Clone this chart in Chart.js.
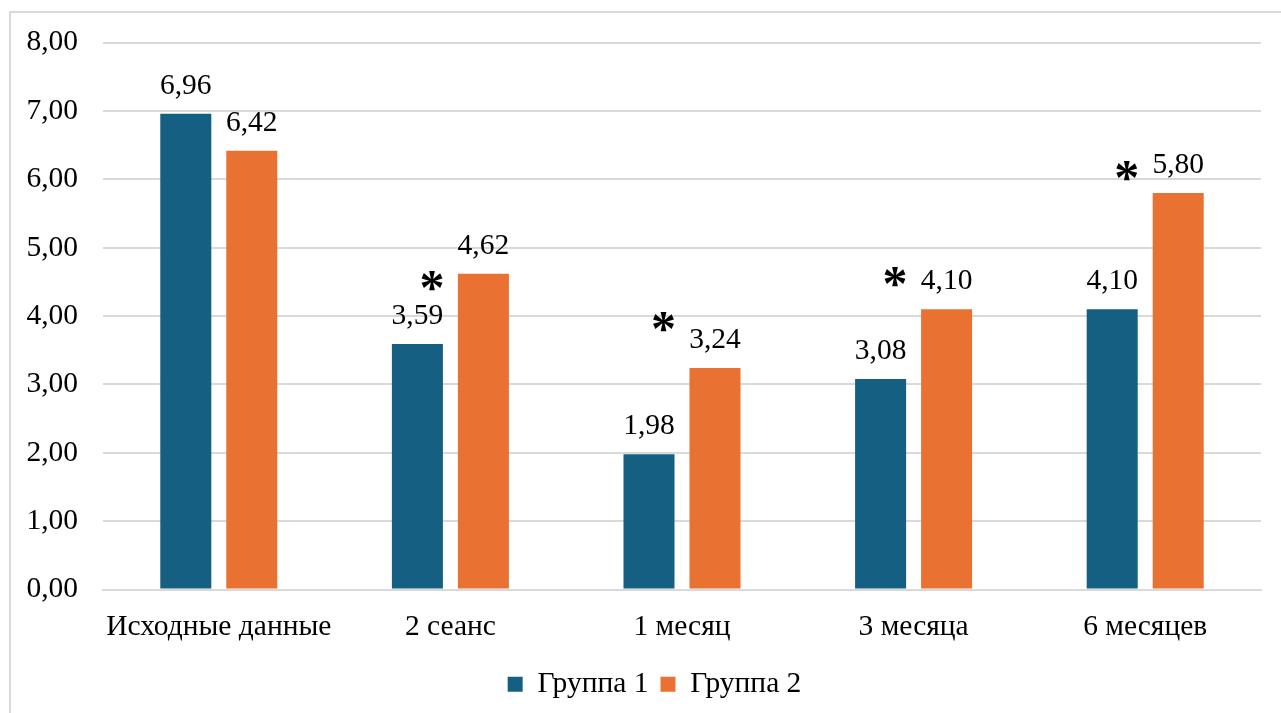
<!DOCTYPE html>
<html>
<head>
<meta charset="utf-8">
<script src="https://cdn.jsdelivr.net/npm/chart.js@4.4.1/dist/chart.umd.min.js"></script>
<style>
  html, body { margin: 0; padding: 0; background: #ffffff; overflow: hidden; }
  #wrap { position: relative; width: 1281px; height: 713px; }
  #frame { position: absolute; left: 9px; top: 11px; width: 1300px; height: 720px; border: 2px solid #d9d9d9; box-sizing: border-box; }
  canvas { position: absolute; left: 0; top: 0; }
</style>
</head>
<body>
<div id="wrap">
  <div id="frame"></div>
  <canvas id="c" width="1281" height="713"></canvas>
</div>
<script>
const categories = ['Исходные данные', '2 сеанс', '1 месяц', '3 месяца', '6 месяцев'];
const seriesNames = ['Группа 1', 'Группа 2'];
const group1 = [6.96, 3.59, 1.98, 3.08, 4.10];
const group2 = [6.42, 4.62, 3.24, 4.10, 5.80];
// asterisk markers (significance), height in axis units; null = no marker
const asteriskLevels = [null, 4.53, 3.93, 4.59, 6.13];
const yTicks = [0, 1, 2, 3, 4, 5, 6, 7, 8];

const BLUE = '#156082';
const ORANGE = '#E97132';
const FONT = "'Liberation Serif', 'Times New Roman', serif";
const FS = 29.5;

const fmt = v => v.toFixed(2).replace('.', ',');

const labelsPlugin = {
  id: 'valueLabels',
  afterLayout(chart) {
    // centre the legend under the framed area like the original
    if (chart.legend) { chart.legend.left += 24; chart.legend.right += 24; }
  },
  afterDatasetsDraw(chart) {
    const ctx = chart.ctx;
    ctx.save();
    ctx.fillStyle = '#000';
    ctx.font = FS + 'px ' + FONT;
    ctx.textAlign = 'center';
    ctx.textBaseline = 'alphabetic';
    chart.data.datasets.forEach((ds, di) => {
      const meta = chart.getDatasetMeta(di);
      meta.data.forEach((bar, i) => {
        ctx.fillText(fmt(ds.data[i]), bar.x, bar.y - 20);
      });
    });
    // asterisks
    const ys = chart.scales.y;
    const meta2 = chart.getDatasetMeta(1);
    ctx.font = 'bold 50px ' + FONT;
    ctx.textBaseline = 'middle';
    asteriskLevels.forEach((lv, i) => {
      if (lv === null) return;
      const bar = meta2.data[i];
      const x = bar.x - bar.width / 2 - 26;
      const y = ys.getPixelForValue(lv) + 11;
      ctx.fillText('*', x, y);
    });
    ctx.restore();
  }
};

new Chart(document.getElementById('c'), {
  type: 'bar',
  data: {
    labels: categories,
    datasets: [
      { label: seriesNames[0], data: group1, backgroundColor: BLUE },
      { label: seriesNames[1], data: group2, backgroundColor: ORANGE }
    ]
  },
  options: {
    responsive: false,
    animation: false,
    layout: { padding: { left: 0, right: 20, top: 30, bottom: 4 } },
    datasets: { bar: { barPercentage: 0.773, categoryPercentage: 0.57 } },
    scales: {
      x: {
        grid: { display: false, drawTicks: false },
        border: { display: true, color: '#d9d9d9', width: 2 },
        ticks: { color: '#000', font: { family: FONT, size: FS }, padding: 20 },
        afterFit(s) { s.height = 68; }
      },
      y: {
        min: 0, max: 8,
        afterBuildTicks(s) { s.ticks = yTicks.map(v => ({ value: v })); },
        grid: { color: '#d9d9d9', lineWidth: 2, drawTicks: false },
        border: { display: false },
        ticks: { color: '#000', font: { family: FONT, size: FS }, padding: 25,
                 callback: v => fmt(v) },
        afterFit(s) { s.width = 103; }
      }
    },
    plugins: {
      legend: {
        position: 'bottom',
        labels: { boxWidth: 15, boxHeight: 15, color: '#000', padding: 12,
                  font: { family: FONT, size: FS } }
      },
      tooltip: { enabled: false }
    }
  },
  plugins: [labelsPlugin]
});
</script>
</body>
</html>
